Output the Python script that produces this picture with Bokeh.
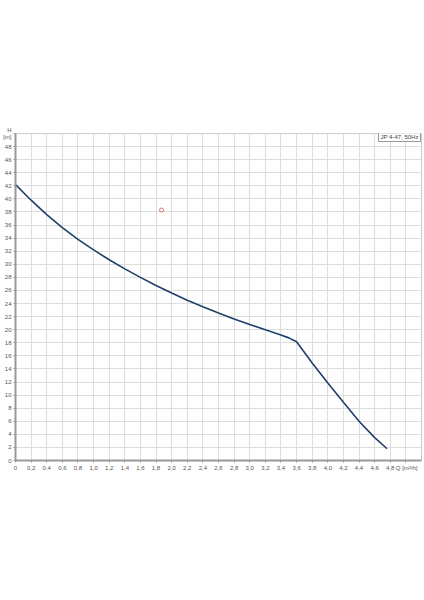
from bokeh.plotting import figure
from bokeh.models import FixedTicker, CustomJSTickFormatter, Label, Range1d
from bokeh.embed import file_html
from bokeh.resources import INLINE

# Pump curve data: flow Q [m3/h] and head H [m]
q_values = [0.0, 0.2, 0.4, 0.6, 0.8, 1.0, 1.2, 1.4, 1.6, 1.8, 2.0, 2.2, 2.4,
            2.6, 2.8, 3.0, 3.2, 3.4, 3.5, 3.6, 3.8, 4.0, 4.2, 4.4, 4.6, 4.76]
h_values = [42.2, 39.8, 37.6, 35.6, 33.8, 32.2, 30.7, 29.3, 28.0, 26.75, 25.6, 24.5, 23.5,
            22.55, 21.65, 20.8, 19.98, 19.18, 18.75, 18.15, 14.9, 11.85, 8.9, 6.0, 3.5, 1.8]

marker_q = [1.87]
marker_h = [38.3]

x_ticks = [round(i * 0.2, 1) for i in range(0, 26)]   # 0 .. 5.0
x_grid = [round(i * 0.2, 1) for i in range(0, 27)]    # 0 .. 5.2
y_ticks = list(range(0, 51, 2))                        # 0 .. 50
x_title = "\u00a0Q [m³/h]"
y_title = "H\n[m]"
legend_text = "JP 4-47, 50Hz"

FONT = "Liberation Sans"

p = figure(width=424, height=480, output_backend="svg", toolbar_location=None,
           x_range=Range1d(0, 5.2), y_range=Range1d(0, 50),
           min_border_left=7, min_border_right=3, min_border_top=133, min_border_bottom=20)
p.background_fill_color = "white"
p.border_fill_color = "white"
p.outline_line_color = "#cccccc"
p.outline_line_width = 1

p.xaxis.ticker = FixedTicker(ticks=x_ticks)
p.yaxis.ticker = FixedTicker(ticks=y_ticks)
p.xgrid.ticker = FixedTicker(ticks=x_grid)
p.ygrid.ticker = FixedTicker(ticks=y_ticks)

p.xaxis.formatter = CustomJSTickFormatter(args=dict(t=x_title), code="""
    if (Math.abs(tick - 5.0) < 1e-6) return t;
    if (Math.abs(tick) < 1e-9) return "0";
    return tick.toFixed(1).replace('.', ',');
""")
p.yaxis.formatter = CustomJSTickFormatter(args=dict(t=y_title), code="""
    if (Math.abs(tick - 50) < 1e-6) return t;
    return tick.toFixed(0);
""")

for ax in (p.xaxis, p.yaxis):
    ax.axis_line_color = "#999999"
    ax.axis_line_width = 2
    ax.major_tick_line_color = "#999999"
    ax.major_tick_out = 2
    ax.major_tick_in = 0
    ax.minor_tick_line_color = None
    ax.major_label_text_font = FONT
    ax.major_label_text_font_size = "6px"
    ax.major_label_text_color = "#555555"
    ax.major_label_standoff = 2

p.xgrid.grid_line_color = "#dddddd"
p.ygrid.grid_line_color = "#dddddd"
p.xgrid.grid_line_width = 1
p.ygrid.grid_line_width = 1

p.line(q_values, h_values, line_color="#1f3f6b", line_width=1.6)
p.scatter(marker_q, marker_h, size=4, fill_color=None, line_color="#e07070", line_width=1)

legend = Label(x=5.2, y=50, text=legend_text, text_align="right", text_baseline="top",
               text_font=FONT, text_font_size="6px", text_color="#444444",
               background_fill_color="white", border_line_color="#999999",
               border_line_width=1, padding=2, x_offset=-1, y_offset=2)
p.add_layout(legend)

open("out.html", "w").write(file_html(p, INLINE))
